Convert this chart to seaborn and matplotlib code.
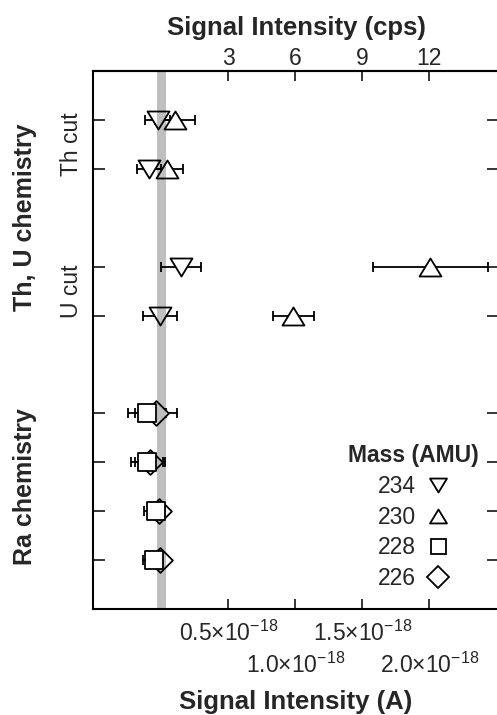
import numpy as np
import pandas as pd
import matplotlib
matplotlib.use("Agg")
import matplotlib.pyplot as plt
import seaborn as sns
from matplotlib.path import Path
from matplotlib.lines import Line2D
from matplotlib.ticker import FixedLocator, FuncFormatter
from matplotlib.transforms import blended_transform_factory

# ---------------- data (in cps) ----------------
m234_rows = [0, 1, 3, 4]
m234_val = [-0.16, -0.53, 0.88, -0.05]
m234_err = [0.57, 0.53, 0.90, 0.77]

m230_rows = [0, 1, 3, 4]
m230_val = [0.61, 0.26, 12.05, 5.92]
m230_err = [0.90, 0.73, 2.58, 0.93]

m228_rows = [6, 7, 8, 9]
m228_val = [-0.64, -0.63, -0.25, -0.32]
m228_err = [0.84, 0.70, 0.51, 0.49]

m226_rows = [6, 7, 8, 9]
m226_val = [-0.24, -0.50, -0.09, -0.06]
m226_err = [0.93, 0.67, 0.12, 0.12]

mass_labels = ["234", "230", "228", "226"]
sub_labels = ["Th cut", "U cut"]
sub_rows = [[0, 1], [3, 4]]
chem_labels = ["Th, U chemistry", "Ra chemistry"]
chem_rows = [[0, 1, 3, 4], [6, 7, 8, 9]]

cps_ticks = [3, 6, 9, 12]
amps_per_cps = 0.5e-18 / 3.0
background_cps = 0.0
background_halfwidth = 0.2

df = pd.concat([
    pd.DataFrame({"row": m234_rows, "cps": m234_val, "err": m234_err, "mass": "234"}),
    pd.DataFrame({"row": m230_rows, "cps": m230_val, "err": m230_err, "mass": "230"}),
    pd.DataFrame({"row": m228_rows, "cps": m228_val, "err": m228_err, "mass": "228"}),
    pd.DataFrame({"row": m226_rows, "cps": m226_val, "err": m226_err, "mass": "226"}),
], ignore_index=True)

# ---------------- style ----------------
sns.set_style("ticks")
plt.rcParams["font.family"] = ["Liberation Sans", "DejaVu Sans"]
plt.rcParams["mathtext.fontset"] = "custom"
plt.rcParams["mathtext.rm"] = "Liberation Sans"
plt.rcParams["mathtext.it"] = "Liberation Sans:italic"
plt.rcParams["mathtext.bf"] = "Liberation Sans:bold"

fig = plt.figure(figsize=(4.97, 7.15), dpi=100)
ax = fig.add_axes([93 / 497, 1 - 609 / 715, (499 - 93) / 497, (609 - 71) / 715])

tri_h = 0.82
up_path = Path([(0, tri_h), (-1, -tri_h), (1, -tri_h), (0, tri_h)], closed=True)
down_path = Path([(0, -tri_h), (-1, tri_h), (1, tri_h), (0, -tri_h)], closed=True)
marker_of = {"234": down_path, "230": up_path, "228": "s", "226": "D"}
size_of = {"234": 15.8, "230": 15.8, "228": 12.6, "226": 12.6}
lw = 1.3

# error bars
for m in mass_labels:
    sub = df[df.mass == m]
    ax.errorbar(sub["cps"], sub["row"], xerr=sub["err"], fmt="none", ecolor="black",
                elinewidth=lw, capsize=3.6, capthick=lw, zorder=2)

# markers
for m, z in [("226", 3), ("234", 3), ("230", 3), ("228", 5)]:
    sub = df[df.mass == m]
    sns.scatterplot(data=sub, x="cps", y="row", marker=marker_of[m], s=size_of[m] ** 2,
                    facecolor="white", edgecolor="black", linewidth=lw, zorder=z, ax=ax,
                    legend=False)

# background band
ax.axvspan(background_cps - background_halfwidth, background_cps + background_halfwidth,
           color="black", alpha=0.25, lw=0, zorder=4)

ax.set_xlim(-3.05, 15.12)
ax.set_ylim(10, -1)
ax.set_xlabel("")
ax.set_ylabel("")

# y ticks
all_rows = sorted(set(m234_rows + m228_rows))
ax.set_yticks(all_rows)
ax.set_yticklabels([])
ax.tick_params(axis="y", which="both", direction="in", length=8.5, width=1.3,
               left=True, right=True, labelleft=False)

# bottom ticks: alternate labels on two rows
def amp_fmt(v, p):
    return r"$\mathregular{%.1f{\times}10^{-18}}$" % (v * amps_per_cps / 1e-18)

ax.xaxis.set_major_locator(FixedLocator(cps_ticks[0::2]))
ax.xaxis.set_minor_locator(FixedLocator(cps_ticks[1::2]))
ax.xaxis.set_major_formatter(FuncFormatter(amp_fmt))
ax.xaxis.set_minor_formatter(FuncFormatter(amp_fmt))
ax.tick_params(axis="x", which="major", direction="in", length=7.5, width=1.3,
               labelsize=16.5, pad=8.5, top=False, bottom=True)
ax.tick_params(axis="x", which="minor", direction="in", length=7.5, width=1.3,
               labelsize=16.5, pad=31.5, top=False, bottom=True)
ax.set_xlabel("Signal Intensity (A)", fontsize=18.5, fontweight="bold", labelpad=8.5)

# top axis in cps
sec = ax.secondary_xaxis("top")
sec.set_xticks(cps_ticks)
sec.set_xticklabels([str(t) for t in cps_ticks])
sec.tick_params(axis="x", direction="in", length=7.5, width=1.3, labelsize=16.5, pad=1)
sec.set_xlabel("Signal Intensity (cps)", fontsize=18.5, fontweight="bold", labelpad=8.5)
for s in ["top", "bottom"]:
    sec.spines[s].set_linewidth(1.5)

for s in ax.spines.values():
    s.set_linewidth(1.5)
    s.set_color("black")

# group labels
trans = blended_transform_factory(fig.transFigure, ax.transData)
for lab, rows in zip(sub_labels, sub_rows):
    ax.text(71 / 497, np.mean(rows), lab, rotation=90, ha="center", va="center",
            fontsize=16.5, transform=trans)
for lab, rows in zip(chem_labels, chem_rows):
    ax.text(25 / 497, np.mean(rows), lab, rotation=90, ha="center", va="center",
            fontsize=18, fontweight="bold", transform=trans)

# legend
leg_size = {"234": 12.2, "230": 12.2, "228": 10.8, "226": 10.8}
handles = [Line2D([], [], ls="none", marker=marker_of[m], ms=leg_size[m], mfc="none",
                  mec="black", mew=lw) for m in mass_labels]
leg = ax.legend(handles, mass_labels, title="Mass (AMU)", markerfirst=False, frameon=False,
                loc="lower right", bbox_to_anchor=(0.99, 0.006), fontsize=16.5,
                title_fontproperties={"weight": "bold", "size": 16.5},
                labelspacing=0.33, handlelength=1.0, handletextpad=0.45,
                borderpad=0.2)

fig.savefig("out.png", dpi=100)
